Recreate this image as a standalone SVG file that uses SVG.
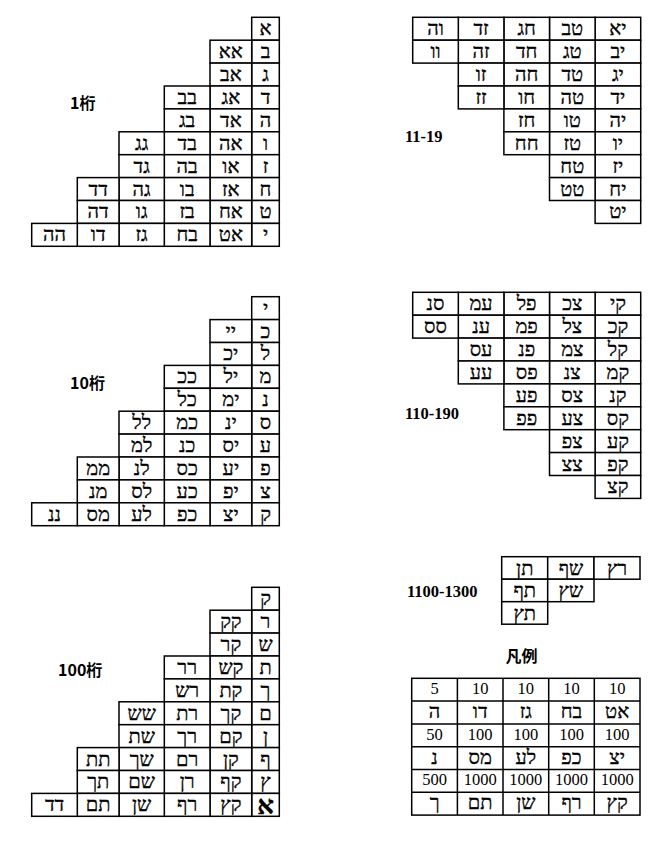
<svg xmlns="http://www.w3.org/2000/svg" xmlns:xlink="http://www.w3.org/1999/xlink" width="658" height="854" viewBox="0 0 658 854">
<style>
.c rect, .c path { fill: #fff; stroke: #000; stroke-width: 1.5; }
.c path { fill: none; }
.h { font-family: "Liberation Serif", "DejaVu Sans", serif; font-size: 20px; text-anchor: middle; direction: ltr; unicode-bidi: bidi-override; fill: #000; stroke: #000; stroke-width: 0.35; }
.hb { font-weight: bold; font-size: 26px; }
.n { font-family: "Liberation Serif", serif; font-size: 16.5px; text-anchor: middle; fill: #000; }
.lj { font-family: "Noto Sans CJK JP", "Noto Sans", sans-serif; font-weight: bold; font-size: 16px; fill: #000; }
.ls { font-family: "Liberation Serif", serif; font-weight: bold; font-size: 16.5px; fill: #000; }
</style>
<defs>
<g id="stairL" class="c">
<rect x="251.7" y="0" width="27.6" height="22.9"/><rect x="251.7" y="22.9" width="27.6" height="22.9"/><rect x="251.7" y="45.8" width="27.6" height="22.9"/><rect x="251.7" y="68.7" width="27.6" height="22.9"/><rect x="251.7" y="91.6" width="27.6" height="22.9"/><rect x="251.7" y="114.5" width="27.6" height="22.9"/><rect x="251.7" y="137.4" width="27.6" height="22.9"/><rect x="251.7" y="160.3" width="27.6" height="22.9"/><rect x="251.7" y="183.2" width="27.6" height="22.9"/><rect x="251.7" y="206.1" width="27.6" height="22.9"/>
<rect x="210" y="22.9" width="41.7" height="22.9"/><rect x="210" y="45.8" width="41.7" height="22.9"/><rect x="210" y="68.7" width="41.7" height="22.9"/><rect x="210" y="91.6" width="41.7" height="22.9"/><rect x="210" y="114.5" width="41.7" height="22.9"/><rect x="210" y="137.4" width="41.7" height="22.9"/><rect x="210" y="160.3" width="41.7" height="22.9"/><rect x="210" y="183.2" width="41.7" height="22.9"/><rect x="210" y="206.1" width="41.7" height="22.9"/>
<rect x="164.3" y="68.7" width="45.7" height="22.9"/><rect x="164.3" y="91.6" width="45.7" height="22.9"/><rect x="164.3" y="114.5" width="45.7" height="22.9"/><rect x="164.3" y="137.4" width="45.7" height="22.9"/><rect x="164.3" y="160.3" width="45.7" height="22.9"/><rect x="164.3" y="183.2" width="45.7" height="22.9"/><rect x="164.3" y="206.1" width="45.7" height="22.9"/>
<rect x="119" y="114.5" width="45.3" height="22.9"/><rect x="119" y="137.4" width="45.3" height="22.9"/><rect x="119" y="160.3" width="45.3" height="22.9"/><rect x="119" y="183.2" width="45.3" height="22.9"/><rect x="119" y="206.1" width="45.3" height="22.9"/>
<rect x="77.3" y="160.3" width="41.7" height="22.9"/><rect x="77.3" y="183.2" width="41.7" height="22.9"/><rect x="77.3" y="206.1" width="41.7" height="22.9"/>
<rect x="31.7" y="206.1" width="45.6" height="22.9"/>
</g>
<g id="stairR" class="c">
<rect x="595.1" y="0" width="45.6" height="22.9"/><rect x="595.1" y="22.9" width="45.6" height="22.9"/><rect x="595.1" y="45.8" width="45.6" height="22.9"/><rect x="595.1" y="68.7" width="45.6" height="22.9"/><rect x="595.1" y="91.6" width="45.6" height="22.9"/><rect x="595.1" y="114.5" width="45.6" height="22.9"/><rect x="595.1" y="137.4" width="45.6" height="22.9"/><rect x="595.1" y="160.3" width="45.6" height="22.9"/><rect x="595.1" y="183.2" width="45.6" height="22.9"/>
<rect x="549.5" y="0" width="45.6" height="22.9"/><rect x="549.5" y="22.9" width="45.6" height="22.9"/><rect x="549.5" y="45.8" width="45.6" height="22.9"/><rect x="549.5" y="68.7" width="45.6" height="22.9"/><rect x="549.5" y="91.6" width="45.6" height="22.9"/><rect x="549.5" y="114.5" width="45.6" height="22.9"/><rect x="549.5" y="137.4" width="45.6" height="22.9"/><rect x="549.5" y="160.3" width="45.6" height="22.9"/>
<rect x="503.9" y="0" width="45.6" height="22.9"/><rect x="503.9" y="22.9" width="45.6" height="22.9"/><rect x="503.9" y="45.8" width="45.6" height="22.9"/><rect x="503.9" y="68.7" width="45.6" height="22.9"/><rect x="503.9" y="91.6" width="45.6" height="22.9"/><rect x="503.9" y="114.5" width="45.6" height="22.9"/>
<rect x="458.3" y="0" width="45.6" height="22.9"/><rect x="458.3" y="22.9" width="45.6" height="22.9"/><rect x="458.3" y="45.8" width="45.6" height="22.9"/><rect x="458.3" y="68.7" width="45.6" height="22.9"/>
<rect x="412.7" y="0" width="45.6" height="22.9"/><rect x="412.7" y="22.9" width="45.6" height="22.9"/>
</g>
</defs>

<rect x="0" y="0" width="658" height="854" fill="#fff"/>

<g id="grid-1keta" transform="translate(0,17.3)">
<use xlink:href="#stairL"/>
<g class="h">
<text x="265.5" y="18">א</text><text x="265.5" y="40.9">ב</text><text x="265.5" y="63.8">ג</text><text x="265.5" y="86.7">ד</text><text x="265.5" y="109.6">ה</text><text x="265.5" y="132.5">ו</text><text x="265.5" y="155.4">ז</text><text x="265.5" y="178.3">ח</text><text x="265.5" y="201.2">ט</text><text x="265.5" y="224.1">י</text>
<text x="230.85" y="40.9">אא</text><text x="230.85" y="63.8">אב</text><text x="230.85" y="86.7">אג</text><text x="230.85" y="109.6">אד</text><text x="230.85" y="132.5">אה</text><text x="230.85" y="155.4">או</text><text x="230.85" y="178.3">אז</text><text x="230.85" y="201.2">אח</text><text x="230.85" y="224.1">אט</text>
<text x="187.15" y="86.7">בב</text><text x="187.15" y="109.6">בג</text><text x="187.15" y="132.5">בד</text><text x="187.15" y="155.4">בה</text><text x="187.15" y="178.3">בו</text><text x="187.15" y="201.2">בז</text><text x="187.15" y="224.1">בח</text>
<text x="141.65" y="132.5">גג</text><text x="141.65" y="155.4">גד</text><text x="141.65" y="178.3">גה</text><text x="141.65" y="201.2">גו</text><text x="141.65" y="224.1">גז</text>
<text x="98.15" y="178.3">דד</text><text x="98.15" y="201.2">דה</text><text x="98.15" y="224.1">דו</text>
<text x="54.5" y="224.1">הה</text>
</g>
</g>
<text class="lj" x="70" y="109">1桁</text>

<g id="grid-10keta" transform="translate(0,296.7)">
<use xlink:href="#stairL"/>
<g class="h">
<text x="265.5" y="18">י</text><text x="265.5" y="40.9">כ</text><text x="265.5" y="63.8">ל</text><text x="265.5" y="86.7">מ</text><text x="265.5" y="109.6">נ</text><text x="265.5" y="132.5">ס</text><text x="265.5" y="155.4">ע</text><text x="265.5" y="178.3">פ</text><text x="265.5" y="201.2">צ</text><text x="265.5" y="224.1">ק</text>
<text x="230.85" y="40.9">יי</text><text x="230.85" y="63.8">יכ</text><text x="230.85" y="86.7">יל</text><text x="230.85" y="109.6">ימ</text><text x="230.85" y="132.5">ינ</text><text x="230.85" y="155.4">יס</text><text x="230.85" y="178.3">יע</text><text x="230.85" y="201.2">יפ</text><text x="230.85" y="224.1">יצ</text>
<text x="187.15" y="86.7">ככ</text><text x="187.15" y="109.6">כל</text><text x="187.15" y="132.5">כמ</text><text x="187.15" y="155.4">כנ</text><text x="187.15" y="178.3">כס</text><text x="187.15" y="201.2">כע</text><text x="187.15" y="224.1">כפ</text>
<text x="141.65" y="132.5">לל</text><text x="141.65" y="155.4">למ</text><text x="141.65" y="178.3">לנ</text><text x="141.65" y="201.2">לס</text><text x="141.65" y="224.1">לע</text>
<text x="98.15" y="178.3">ממ</text><text x="98.15" y="201.2">מנ</text><text x="98.15" y="224.1">מס</text>
<text x="54.5" y="224.1">ננ</text>
</g>
</g>
<text class="lj" x="70" y="388.7">10桁</text>

<g id="grid-100keta" transform="translate(0,587.3)">
<use xlink:href="#stairL"/>
<g class="h">
<text x="265.5" y="18">ק</text><text x="265.5" y="40.9">ר</text><text x="265.5" y="63.8">ש</text><text x="265.5" y="86.7">ת</text><text x="265.5" y="109.6">ך</text><text x="265.5" y="132.5">ם</text><text x="265.5" y="155.4">ן</text><text x="265.5" y="178.3">ף</text><text x="265.5" y="201.2">ץ</text><text class="hb" x="265.5" y="226.3">א</text>
<text x="230.85" y="40.9">קק</text><text x="230.85" y="63.8">קר</text><text x="230.85" y="86.7">קש</text><text x="230.85" y="109.6">קת</text><text x="230.85" y="132.5">קך</text><text x="230.85" y="155.4">קם</text><text x="230.85" y="178.3">קן</text><text x="230.85" y="201.2">קף</text><text x="230.85" y="224.1">קץ</text>
<text x="187.15" y="86.7">רר</text><text x="187.15" y="109.6">רש</text><text x="187.15" y="132.5">רת</text><text x="187.15" y="155.4">רך</text><text x="187.15" y="178.3">רם</text><text x="187.15" y="201.2">רן</text><text x="187.15" y="224.1">רף</text>
<text x="141.65" y="132.5">שש</text><text x="141.65" y="155.4">שת</text><text x="141.65" y="178.3">שך</text><text x="141.65" y="201.2">שם</text><text x="141.65" y="224.1">שן</text>
<text x="98.15" y="178.3">תת</text><text x="98.15" y="201.2">תך</text><text x="98.15" y="224.1">תם</text>
<text x="54.5" y="224.1">דד</text>
</g>
</g>
<text class="lj" x="58" y="675.7">100桁</text>

<g id="grid-11-19" transform="translate(0,17.3)">
<use xlink:href="#stairR"/>
<g class="h">
<text x="617.9" y="18">יא</text><text x="617.9" y="40.9">יב</text><text x="617.9" y="63.8">יג</text><text x="617.9" y="86.7">יד</text><text x="617.9" y="109.6">יה</text><text x="617.9" y="132.5">יו</text><text x="617.9" y="155.4">יז</text><text x="617.9" y="178.3">יח</text><text x="617.9" y="201.2">יט</text>
<text x="572.3" y="18">טב</text><text x="572.3" y="40.9">טג</text><text x="572.3" y="63.8">טד</text><text x="572.3" y="86.7">טה</text><text x="572.3" y="109.6">טו</text><text x="572.3" y="132.5">טז</text><text x="572.3" y="155.4">טח</text><text x="572.3" y="178.3">טט</text>
<text x="526.7" y="18">חג</text><text x="526.7" y="40.9">חד</text><text x="526.7" y="63.8">חה</text><text x="526.7" y="86.7">חו</text><text x="526.7" y="109.6">חז</text><text x="526.7" y="132.5">חח</text>
<text x="481.1" y="18">זד</text><text x="481.1" y="40.9">זה</text><text x="481.1" y="63.8">זו</text><text x="481.1" y="86.7">זז</text>
<text x="435.5" y="18">וה</text><text x="435.5" y="40.9">וו</text>
</g>
</g>
<text class="ls" x="405" y="142">11-19</text>

<g id="grid-110-190" transform="translate(0,292.3)">
<use xlink:href="#stairR"/>
<g class="h">
<text x="617.9" y="18">קי</text><text x="617.9" y="40.9">קכ</text><text x="617.9" y="63.8">קל</text><text x="617.9" y="86.7">קמ</text><text x="617.9" y="109.6">קנ</text><text x="617.9" y="132.5">קס</text><text x="617.9" y="155.4">קע</text><text x="617.9" y="178.3">קפ</text><text x="617.9" y="201.2">קצ</text>
<text x="572.3" y="18">צכ</text><text x="572.3" y="40.9">צל</text><text x="572.3" y="63.8">צמ</text><text x="572.3" y="86.7">צנ</text><text x="572.3" y="109.6">צס</text><text x="572.3" y="132.5">צע</text><text x="572.3" y="155.4">צפ</text><text x="572.3" y="178.3">צצ</text>
<text x="526.7" y="18">פל</text><text x="526.7" y="40.9">פמ</text><text x="526.7" y="63.8">פנ</text><text x="526.7" y="86.7">פס</text><text x="526.7" y="109.6">פע</text><text x="526.7" y="132.5">פפ</text>
<text x="481.1" y="18">עמ</text><text x="481.1" y="40.9">ענ</text><text x="481.1" y="63.8">עס</text><text x="481.1" y="86.7">עע</text>
<text x="435.5" y="18">סנ</text><text x="435.5" y="40.9">סס</text>
</g>
</g>
<text class="ls" x="405" y="418.5">110-190</text>

<g id="grid-1100-1300">
<g class="c">
<rect x="501.7" y="556.7" width="46" height="22.5"/><rect x="547.7" y="556.7" width="46.3" height="22.5"/><rect x="594" y="556.7" width="46" height="22.5"/>
<rect x="501.7" y="579.2" width="46" height="22.5"/><rect x="547.7" y="579.2" width="46.3" height="22.5"/>
<rect x="501.7" y="601.7" width="46" height="22.5"/>
</g>
<g class="h">
<text x="524.7" y="574.6">תן</text><text x="570.9" y="574.6">שף</text><text x="617" y="574.6">רץ</text>
<text x="524.7" y="597.1">תף</text><text x="570.9" y="597.1">שץ</text>
<text x="524.7" y="619.6">תץ</text>
</g>
</g>
<text class="ls" x="407" y="597">1100-1300</text>

<text class="lj" x="521.5" y="662" text-anchor="middle">凡例</text>

<g id="legend">
<g class="c">
<rect x="411.7" y="678.3" width="228.3" height="136.8"/>
<path d="M457.4 678.3V815.1M503 678.3V815.1M548.7 678.3V815.1M594.3 678.3V815.1M411.7 701.1H640M411.7 723.9H640M411.7 746.7H640M411.7 769.5H640M411.7 792.3H640"/>
</g>
<g class="n">
<text x="434.55" y="694">5</text><text x="480.2" y="694">10</text><text x="525.85" y="694">10</text><text x="571.5" y="694">10</text><text x="617.15" y="694">10</text>
<text x="434.55" y="739.6">50</text><text x="480.2" y="739.6">100</text><text x="525.85" y="739.6">100</text><text x="571.5" y="739.6">100</text><text x="617.15" y="739.6">100</text>
<text x="434.55" y="785.2">500</text><text x="480.2" y="785.2">1000</text><text x="525.85" y="785.2">1000</text><text x="571.5" y="785.2">1000</text><text x="617.15" y="785.2">1000</text>
</g>
<g class="h">
<text x="434.55" y="718">ה</text><text x="480.2" y="718">דו</text><text x="525.85" y="718">גז</text><text x="571.5" y="718">בח</text><text x="617.15" y="718">אט</text>
<text x="434.55" y="763.6">נ</text><text x="480.2" y="763.6">מס</text><text x="525.85" y="763.6">לע</text><text x="571.5" y="763.6">כפ</text><text x="617.15" y="763.6">יצ</text>
<text x="434.55" y="809.2">ך</text><text x="480.2" y="809.2">תם</text><text x="525.85" y="809.2">שן</text><text x="571.5" y="809.2">רף</text><text x="617.15" y="809.2">קץ</text>
</g>
</g>
</svg>
